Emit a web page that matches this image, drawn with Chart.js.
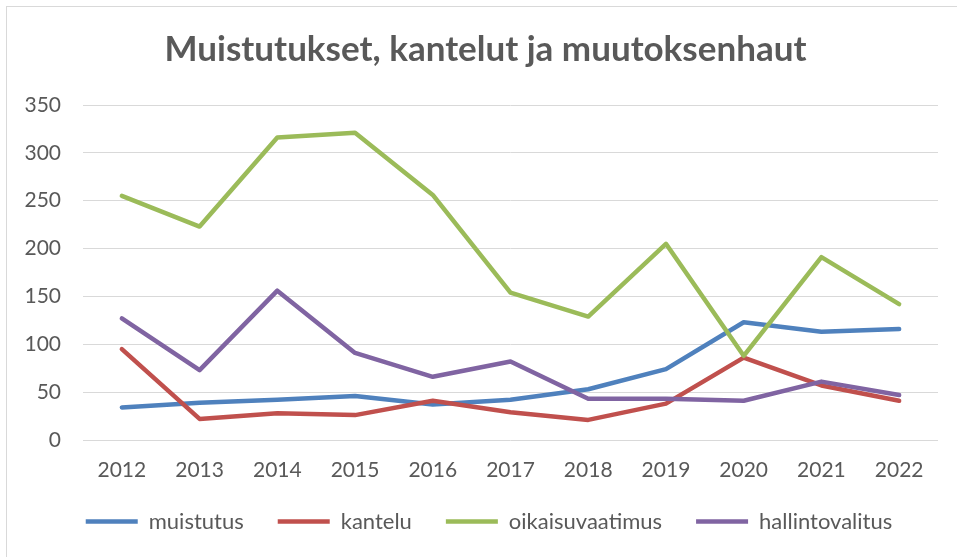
<!DOCTYPE html>
<html>
<head>
<meta charset="utf-8">
<script src="https://cdn.jsdelivr.net/npm/chart.js@4/dist/chart.umd.min.js"></script>
<style>
  html, body { margin: 0; padding: 0; background: #ffffff; overflow: hidden; }
  #frame { position: absolute; left: 6px; top: 6px; width: 1000px; height: 1000px; border: 1px solid #d9d9d9; }
  #wrap { position: absolute; left: 0; top: 0; width: 972px; height: 557px; }
</style>
</head>
<body>
<div id="frame"></div>
<div id="wrap"><canvas id="mainChart"></canvas></div>
<script>
/*
----------------------
Vuosittaiset muistutukset, kantelut ja muutoksenhaut
----------------------
*/
var years = ["2012", "2013", "2014", "2015", "2016", "2017", "2018", "2019", "2020", "2021", "2022"];
var muistutus = [34, 39, 42, 46, 37, 42, 53, 74, 123, 113, 116];
var kantelu = [95, 22, 28, 26, 41, 29, 21, 38, 86, 57, 41];
var oikaisuvaatimus = [255, 223, 316, 321, 256, 154, 129, 205, 88, 191, 142];
var hallintovalitus = [127, 73, 156, 91, 66, 82, 43, 43, 41, 61, 47];

var text_color = "#595959";
var font_family = "Lato, 'Open Sans', sans-serif";

function make_line(label, values, colour, order) {
  return {
    label: label,
    data: values,
    borderColor: colour,
    backgroundColor: colour,
    borderWidth: 4.5,
    borderCapStyle: "round",
    borderJoinStyle: "round",
    pointRadius: 0,
    pointHoverRadius: 0,
    tension: 0,
    fill: false,
    order: order
  };
}

/*
  Title and legend are nudged a little after layout so that
  they sit where the original chart has them.
*/
var box_nudge = {
  id: "box_nudge",
  afterLayout: function (chart) {
    if (chart.legend) {
      chart.legend.top -= 6.5;
      chart.legend.bottom -= 6.5;
      chart.legend.left += 20;
      chart.legend.right += 20;
    }
    if (chart.titleBlock) {
      chart.titleBlock.left += 16.5;
      chart.titleBlock.right += 16.5;
    }
  }
};

var main_chart = new Chart(document.getElementById("mainChart"), {
  type: "line",
  data: {
    labels: years,
    datasets: [
      make_line("muistutus", muistutus, "#4F81BD", 3),
      make_line("kantelu", kantelu, "#C0504D", 2),
      make_line("oikaisuvaatimus", oikaisuvaatimus, "#9BBB59", 1),
      make_line("hallintovalitus", hallintovalitus, "#8064A2", 0)
    ]
  },
  options: {
    responsive: true,
    maintainAspectRatio: false,
    animation: false,
    layout: {
      padding: { left: 0, right: 34, top: 0, bottom: 8 }
    },
    scales: {
      x: {
        offset: true,
        grid: { display: false, drawTicks: false },
        border: { display: false },
        ticks: {
          color: text_color,
          font: { family: font_family, size: 21 },
          padding: 18,
          maxRotation: 0
        },
        afterFit: function (scale) {
          scale.height = 43;
        }
      },
      y: {
        min: 0,
        max: 350,
        grid: { color: "#d9d9d9", lineWidth: 1, drawTicks: false },
        border: { display: false },
        ticks: {
          stepSize: 50,
          color: text_color,
          font: { family: font_family, size: 21 },
          padding: 22
        },
        afterFit: function (scale) {
          scale.width = 83;
        }
      }
    },
    plugins: {
      title: {
        display: true,
        text: "Muistutukset, kantelut ja muutoksenhaut",
        color: text_color,
        font: { family: font_family, size: 35, weight: "bold" },
        padding: { top: 29, bottom: 34 }
      },
      legend: {
        position: "bottom",
        labels: {
          color: text_color,
          font: { family: font_family, size: 22 },
          usePointStyle: true,
          pointStyle: "line",
          pointStyleWidth: 52,
          padding: 34,
          sort: function (a, b) {
            return a.datasetIndex - b.datasetIndex;
          }
        }
      },
      tooltip: { enabled: false }
    }
  },
  plugins: [box_nudge]
});
</script>
</body>
</html>
